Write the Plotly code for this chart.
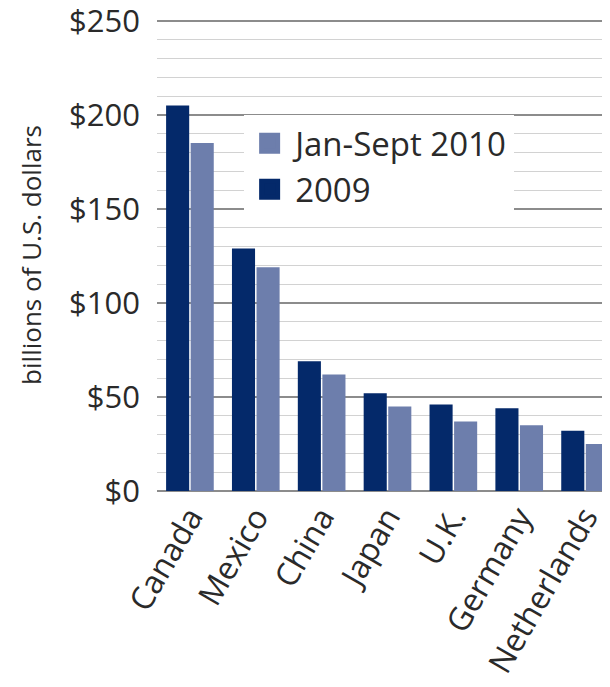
import plotly.graph_objects as go

countries = ["Canada", "Mexico", "China", "Japan", "U.K.", "Germany", "Netherlands"]
values_2009 = [205, 129, 69, 52, 46, 44, 32]
values_2010 = [185, 119, 62, 45, 37, 35, 25]
series_names = ["2009", "Jan-Sept 2010"]
y_tickvals = [0, 50, 100, 150, 200, 250]
y_ticktext = ["$0", "$50", "$100", "$150", "$200", "$250"]

DARK = "#04296a"
LIGHT = "#6d7eac"
FONT = "Open Sans, Noto Sans, DejaVu Sans, sans-serif"

fig = go.Figure()
fig.add_trace(go.Bar(x=countries, y=values_2009, name=series_names[0],
                     marker=dict(color=DARK, line=dict(width=0)), showlegend=False))
fig.add_trace(go.Bar(x=countries, y=values_2010, name=series_names[1],
                     marker=dict(color=LIGHT, line=dict(width=0)), showlegend=False))
# legend entries (square markers)
fig.add_trace(go.Scatter(x=[None], y=[None], mode="markers", name=series_names[0],
                         marker=dict(symbol="square", size=16, color=DARK,
                                     line=dict(color=DARK, width=5))))
fig.add_trace(go.Scatter(x=[None], y=[None], mode="markers", name=series_names[1],
                         marker=dict(symbol="square", size=16, color=LIGHT,
                                     line=dict(color=LIGHT, width=5))))

fig.update_layout(
    width=610, height=687,
    margin=dict(l=149, r=0, t=11, b=204, autoexpand=False),
    paper_bgcolor="white", plot_bgcolor="white",
    barmode="group", bargap=0.254, bargroupgap=0.06,
    font=dict(family=FONT, color="#2a2a2a"),
    legend=dict(x=0.189, y=0.796, xanchor="left", yanchor="top",
                bgcolor="white", borderwidth=0, traceorder="reversed",
                font=dict(size=33, color="#2a2a2a"), itemsizing="trace",
                itemwidth=41, tracegroupgap=0),
    xaxis=dict(range=[-0.5, 6.5], tickangle=-60, showgrid=False, automargin=False,
               showline=False, ticks="", tickfont=dict(size=32, color="#2a2a2a"),
               ticklabeloverflow="allow", zeroline=False),
    yaxis=dict(range=[0, 251], tickvals=y_tickvals, ticktext=y_ticktext,
               automargin=False, ticklabeloverflow="allow",
               showgrid=True, gridcolor="#8c8c8c", gridwidth=1.5,
               minor=dict(dtick=10, showgrid=True, gridcolor="#d2d2d2", gridwidth=1),
               zeroline=True, zerolinecolor="#8c8c8c", zerolinewidth=1.5,
               ticks="", ticklabelstandoff=16,
               tickfont=dict(size=31, color="#2a2a2a"),
               title=dict(text="billions of U.S. dollars", standoff=19,
                          font=dict(size=26, color="#2a2a2a"))),
)

fig.write_html("out.html")
